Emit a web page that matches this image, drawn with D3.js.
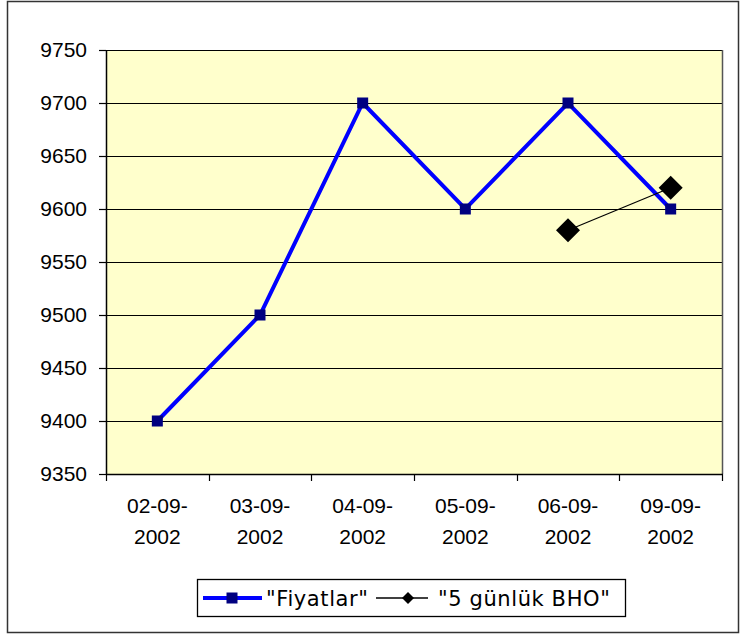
<!DOCTYPE html>
<html>
<head>
<meta charset="utf-8">
<script src="https://cdn.jsdelivr.net/npm/d3@7"></script>
<style>
  html, body { margin: 0; padding: 0; background: #fff; }
  svg { display: block; }
</style>
</head>
<body>
<div id="chart"></div>
<script>
// Daily prices and the 5-day moving average
const categories = [["02-09-", "2002"], ["03-09-", "2002"], ["04-09-", "2002"], ["05-09-", "2002"], ["06-09-", "2002"], ["09-09-", "2002"]];
const fiyatlar = [9400, 9500, 9700, 9600, 9700, 9600];
const bho = [null, null, null, null, 9580, 9620];
const yTicks = [9350, 9400, 9450, 9500, 9550, 9600, 9650, 9700, 9750];
const seriesNames = ['"Fiyatlar"', '"5 günlük BHO"'];

const W = 741, H = 635;
const plot = { left: 106, top: 50, right: 722, bottom: 474 };

const svg = d3.select("#chart").append("svg")
  .attr("width", W).attr("height", H);

// outer chart frame
svg.append("rect")
  .attr("x", 7.5).attr("y", 1.5).attr("width", 731).attr("height", 631)
  .attr("fill", "#fff").attr("stroke", "#333").attr("stroke-width", 1.5);

const keys = categories.map((d, i) => i);
const x = d3.scaleBand().domain(keys).range([plot.left, plot.right]);
const y = d3.scaleLinear().domain([9350, 9750]).range([plot.bottom, plot.top]);
const cx = i => x(i) + x.bandwidth() / 2;

// plot area background
svg.append("rect")
  .attr("x", plot.left).attr("y", plot.top)
  .attr("width", plot.right - plot.left).attr("height", plot.bottom - plot.top)
  .attr("fill", "#FFFFCC");

// horizontal gridlines
svg.append("g").selectAll("line").data(yTicks).join("line")
  .attr("x1", plot.left).attr("x2", plot.right)
  .attr("y1", d => Math.round(y(d)) + 0.5).attr("y2", d => Math.round(y(d)) + 0.5)
  .attr("stroke", "#000").attr("stroke-width", 1.2);

// plot area border (right side)
svg.append("line")
  .attr("x1", plot.right + 0.5).attr("x2", plot.right + 0.5)
  .attr("y1", plot.top).attr("y2", plot.bottom)
  .attr("stroke", "#555").attr("stroke-width", 1.5);

// y axis
const yAxis = d3.axisLeft(y).tickValues(yTicks).tickFormat(d3.format("d"))
  .tickSize(7).tickPadding(12).tickSizeOuter(0);
const gy = svg.append("g").attr("transform", `translate(${plot.left},0)`).call(yAxis);
gy.select(".domain").attr("stroke", "#000").attr("stroke-width", 1.5);
gy.selectAll(".tick line").attr("stroke", "#000").attr("stroke-width", 1.2);
gy.selectAll(".tick text")
  .attr("font-family", "'Liberation Sans', Arial, sans-serif")
  .attr("font-size", 21).attr("fill", "#000");

// x axis: ticks on category boundaries
const gx = svg.append("g").attr("transform", `translate(0,${plot.bottom})`);
gx.append("line").attr("x1", plot.left).attr("x2", plot.right + 1)
  .attr("y1", 0.5).attr("y2", 0.5).attr("stroke", "#000").attr("stroke-width", 1.5);
const bounds = keys.map(i => x(i)).concat([x(keys.length - 1) + x.bandwidth()]);
gx.selectAll("line.t").data(bounds).join("line").attr("class", "t")
  .attr("x1", d => Math.round(d) + 0.5).attr("x2", d => Math.round(d) + 0.5)
  .attr("y1", 0).attr("y2", 7).attr("stroke", "#000").attr("stroke-width", 1.2);
const lbl = gx.selectAll("text").data(categories).join("text")
  .attr("text-anchor", "middle")
  .attr("font-family", "'Liberation Sans', Arial, sans-serif")
  .attr("font-size", 21).attr("fill", "#000");
lbl.append("tspan").attr("x", (d, i) => cx(i)).attr("y", 39).text(d => d[0]);
lbl.append("tspan").attr("x", (d, i) => cx(i)).attr("y", 70).text(d => d[1]);

// Fiyatlar line
const line = d3.line().defined(d => d.v != null).x(d => cx(d.i)).y(d => y(d.v));
const fData = fiyatlar.map((v, i) => ({ i, v }));
svg.append("path").datum(fData).attr("d", line)
  .attr("fill", "none").attr("stroke", "#0000FF").attr("stroke-width", 4)
  .attr("stroke-linejoin", "miter");

// 5-day moving average line
const bData = bho.map((v, i) => ({ i, v })).filter(d => d.v != null);
svg.append("path").datum(bData).attr("d", line)
  .attr("fill", "none").attr("stroke", "#000").attr("stroke-width", 1.2);

// markers
const sq = 11;
svg.append("g").selectAll("rect").data(fData).join("rect")
  .attr("x", d => cx(d.i) - sq / 2).attr("y", d => y(d.v) - sq / 2)
  .attr("width", sq).attr("height", sq).attr("fill", "#000080");

const dia = 12;
svg.append("g").selectAll("path").data(bData).join("path")
  .attr("d", d => `M${cx(d.i)},${y(d.v) - dia}L${cx(d.i) + dia},${y(d.v)}L${cx(d.i)},${y(d.v) + dia}L${cx(d.i) - dia},${y(d.v)}Z`)
  .attr("fill", "#000");

// legend
const lg = svg.append("g");
lg.append("rect").attr("x", 197.5).attr("y", 579.5).attr("width", 428).attr("height", 37)
  .attr("fill", "#fff").attr("stroke", "#000").attr("stroke-width", 1.3);
const ly = 598;
lg.append("line").attr("x1", 203).attr("x2", 262).attr("y1", ly).attr("y2", ly)
  .attr("stroke", "#0000FF").attr("stroke-width", 4);
lg.append("rect").attr("x", 232 - sq / 2).attr("y", ly - sq / 2).attr("width", sq).attr("height", sq)
  .attr("fill", "#000080");
lg.append("text").attr("x", 266).attr("y", ly + 7.5).text(seriesNames[0]);
lg.append("line").attr("x1", 376).attr("x2", 428).attr("y1", ly).attr("y2", ly)
  .attr("stroke", "#000").attr("stroke-width", 1.5);
const ld = 6;
lg.append("path").attr("d", `M408,${ly - ld}L${408 + ld},${ly}L408,${ly + ld}L${408 - ld},${ly}Z`).attr("fill", "#000");
lg.append("text").attr("x", 438).attr("y", ly + 7.5).text(seriesNames[1]);
lg.selectAll("text")
  .attr("font-family", "'DejaVu Sans', Verdana, sans-serif")
  .attr("font-size", 21).attr("letter-spacing", 0.6).attr("fill", "#000");
</script>
</body>
</html>
